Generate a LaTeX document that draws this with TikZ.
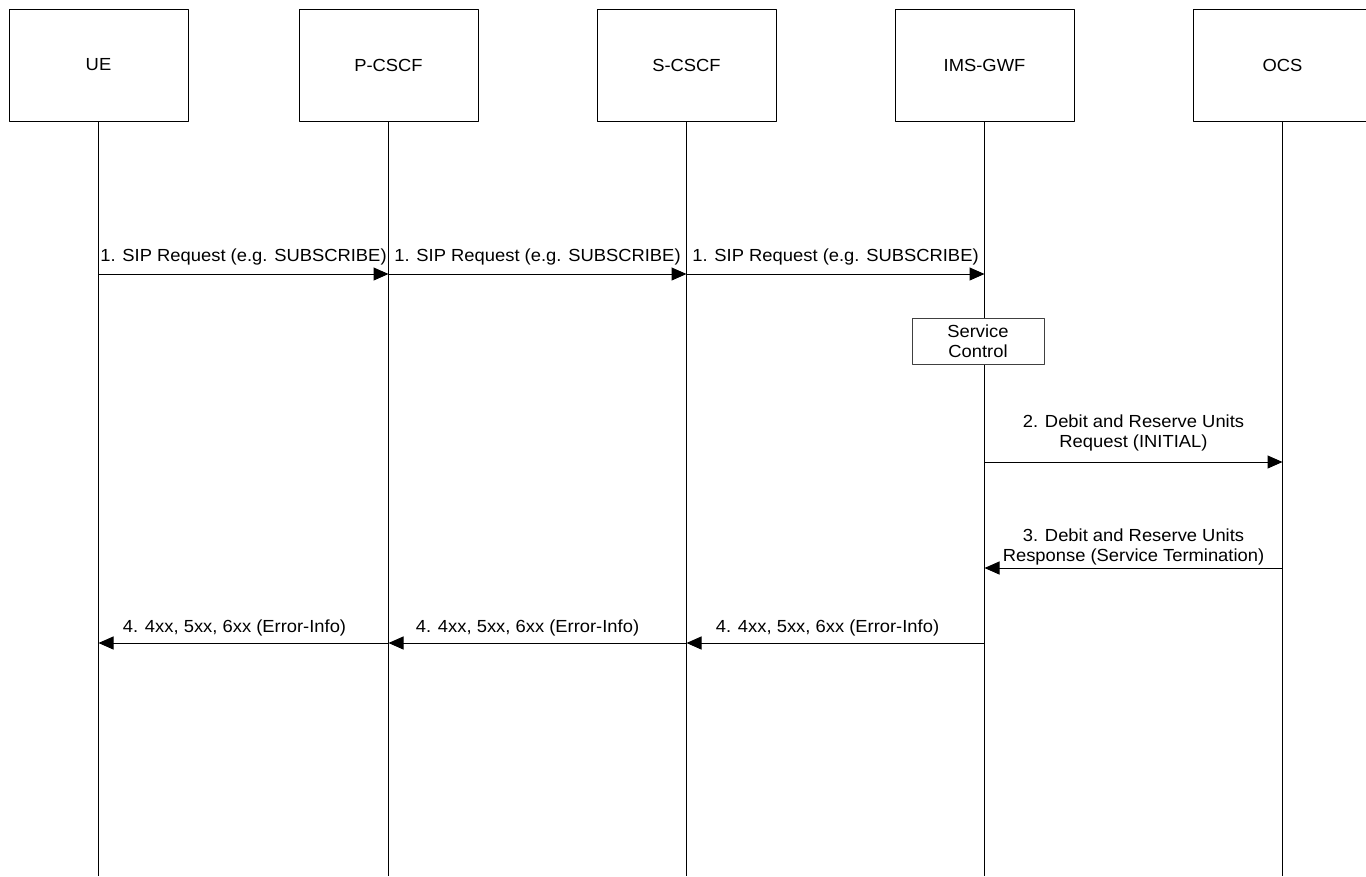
\documentclass[tikz,border=0pt]{standalone}
\usepackage{fontspec}
\setmainfont{Liberation Sans}[FakeStretch=1.05]
\usetikzlibrary{arrows.meta}

\newcommand{\printENT}[3]{\node[entity] (#1) at (#2,65) {#3};}

\tikzset{
  entity/.style={draw, minimum width=179pt, minimum height=112pt, inner sep=0pt},
  ctrlbox/.style={draw=black!75, fill=white, minimum width=132pt, minimum height=46pt, inner sep=0pt, align=center},
  msglabel/.style={inner sep=0pt, align=center}
}

\begin{document}
\begin{tikzpicture}[x=1pt,y=-1pt,line width=1pt,line join=round,>={Triangle[length=15pt,width=13pt]},font=\fontsize{17.5}{20}\selectfont]
  \useasboundingbox (0,0) rectangle (1366,876);
  \printENT{ue}{98.5}{UE}
  \printENT{pcscf}{388.5}{P-CSCF}
  \printENT{scscf}{686.5}{S-CSCF}
  \printENT{gwf}{984.5}{IMS-GWF}
  \printENT{ocs}{1282.5}{OCS}

  \foreach \n in {ue,pcscf,scscf,gwf,ocs} {
      \draw (\n.south) -- (\n.south |- 0,876);
      \foreach \k/\y in {a/274,b/462,c/568,d/643} {
          \coordinate (\n-\k) at (\n.south |- 0,\y);
        }
    }

  \node[ctrlbox] (svc) at (978,341) {Service\\Control};

  \draw[->] (ue-a) -- node[msglabel,above=8pt] {1. SIP Request (e.g. SUBSCRIBE)} (pcscf-a);
  \draw[->] (pcscf-a) -- node[msglabel,above=8pt] {1. SIP Request (e.g. SUBSCRIBE)} (scscf-a);
  \draw[->] (scscf-a) -- node[msglabel,above=8pt] {1. SIP Request (e.g. SUBSCRIBE)} (gwf-a);

  \draw[->] (gwf-b) -- node[msglabel,above=10pt] {2. Debit and Reserve Units\\Request (INITIAL)} (ocs-b);
  \draw[->] (ocs-c) -- node[msglabel,above=2.3pt] {3. Debit and Reserve Units\\Response (Service Termination)} (gwf-c);

  \draw[->] (gwf-d) -- node[msglabel,above=6.3pt,xshift=-8pt] {4. 4xx, 5xx, 6xx (Error-Info)} (scscf-d);
  \draw[->] (scscf-d) -- node[msglabel,above=6.3pt,xshift=-10pt] {4. 4xx, 5xx, 6xx (Error-Info)} (pcscf-d);
  \draw[->] (pcscf-d) -- node[msglabel,above=6.3pt,xshift=-9pt] {4. 4xx, 5xx, 6xx (Error-Info)} (ue-d);
\end{tikzpicture}
\end{document}
